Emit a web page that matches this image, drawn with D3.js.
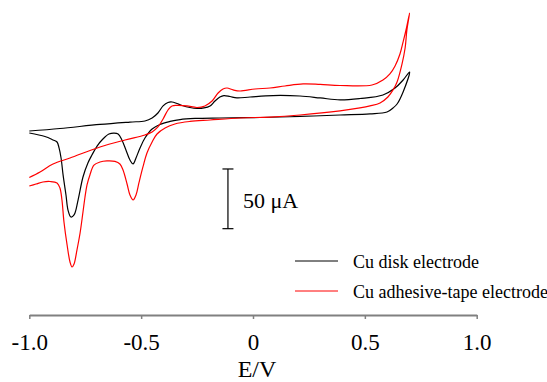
<!DOCTYPE html>
<html>
<head>
<meta charset="utf-8">
<script src="https://cdn.jsdelivr.net/npm/d3@7"></script>
<style>
  html, body { margin: 0; padding: 0; background: #fff; }
  svg { display: block; }
  text { font-family: "Liberation Serif", "Times New Roman", serif; }
</style>
</head>
<body>
<svg id="chart" width="547" height="382"></svg>
<script>
// Potential (V) and current (uA), in scan order
const seriesNames = ["Cu disk electrode", "Cu adhesive-tape electrode"];
const seriesColors = ["#000000", "#ff0000"];

const diskE = [-1.0,-0.863,-0.684,-0.550,-0.483,-0.451,-0.425,-0.402,-0.380,-0.362,-0.340,-0.317,-0.282,-0.250,-0.219,-0.192,-0.170,-0.148,-0.130,-0.103,-0.072,-0.013,0.089,0.210,0.300,0.389,0.478,0.581,0.635,0.671,0.700,
  0.671,0.644,0.626,0.599,0.523,0.389,0.210,0.031,-0.148,-0.259,-0.326,-0.371,-0.416,-0.451,-0.483,-0.505,-0.523,-0.536,-0.550,-0.568,-0.586,-0.603,-0.621,-0.644,-0.671,-0.697,-0.720,-0.738,-0.760,-0.782,-0.800,-0.814,-0.827,-0.836,-0.849,-0.858,-0.867,-0.876,-0.894,-0.930,-1.0];
const diskI = [-10.9,-8.8,-5.4,-3.4,-2.5,0,4.2,10.1,13.0,13.4,12.1,10.5,8.8,8.0,8.4,10.1,14.2,17.6,18.8,18.0,16.8,17.6,18.8,18.4,16.8,15.1,16.3,19.3,25.1,31.8,38.5,
  21.8,11.7,8.4,5.0,3.4,2.5,1.3,0.4,0,-0.4,-1.3,-2.9,-5.4,-9.2,-16.8,-25.1,-33.5,-38.5,-35.2,-26.8,-18.4,-13.4,-12.6,-13.4,-17.6,-23.5,-31.0,-37.7,-49.4,-68.7,-81.2,-82.9,-77.1,-64.5,-47.7,-33.5,-25.1,-20.1,-18.4,-15.5,-12.6];

const tapeE = [-1.0,-0.952,-0.894,-0.818,-0.684,-0.572,-0.483,-0.451,-0.425,-0.402,-0.380,-0.362,-0.335,-0.295,-0.250,-0.215,-0.183,-0.156,-0.134,-0.116,-0.089,-0.058,0.009,0.076,0.143,0.224,0.300,0.389,0.532,0.581,0.612,0.635,0.657,0.671,0.684,0.700,
  0.688,0.680,0.666,0.644,0.626,0.603,0.568,0.523,0.478,0.389,0.210,0.076,-0.058,-0.192,-0.282,-0.349,-0.393,-0.429,-0.451,-0.474,-0.492,-0.510,-0.523,-0.536,-0.550,-0.563,-0.581,-0.595,-0.617,-0.653,-0.684,-0.711,-0.729,-0.742,-0.751,-0.760,-0.773,-0.787,-0.800,-0.809,-0.818,-0.831,-0.845,-0.854,-0.863,-0.876,-0.907,-0.939,-0.970,-1.0];
const tapeI = [-49.8,-45.2,-38.5,-33.5,-24.3,-18.4,-14.2,-11.7,-7.5,-0.8,6.7,10.1,10.5,10.1,8.8,10.1,14.2,20.9,24.3,25.1,23.5,22.6,24.3,25.1,26.8,28.5,28.1,27.2,27.6,31.8,36.9,43.6,53.6,63.7,73.7,87.9,
  73.7,58.6,45.2,30.2,23.5,17.6,12.6,10.1,8.4,5.9,2.5,0.8,0,-1.7,-2.9,-5.0,-8.4,-13.4,-20.1,-29.3,-41.0,-54.4,-64.5,-68.7,-64.5,-55.3,-43.6,-38.5,-36.4,-36.0,-36.9,-39.4,-47.7,-56.1,-66.2,-78.7,-96.3,-110.6,-122.3,-124.8,-120.6,-106.4,-87.1,-68.7,-58.6,-54.4,-53.2,-53.6,-55.3,-57.0];

const tickValues = [-1.0, -0.5, 0, 0.5, 1.0];
const tickLabels = ["-1.0", "-0.5", "0", "0.5", "1.0"];
const xLabel = "E/V";
const scaleBarValue = 50;      // uA
const scaleBarLabel = "50 \u03bcA";
const scaleBarE = -0.112;      // V position of the scale bar
const scaleBarTop = -42.7;     // uA

const svg = d3.select("#chart");
const x = d3.scaleLinear().domain([-1, 1]).range([29.3, 476.7]);
const y = d3.scaleLinear().domain([-165, 95]).range([315, 315 - 260 * 1.194]);

const line = d3.line()
  .x(d => x(d[0])).y(d => y(d[1]))
  .curve(d3.curveCatmullRom.alpha(0.5));

const series = [
  diskE.map((e, i) => [e, diskI[i]]),
  tapeE.map((e, i) => [e, tapeI[i]])
];

// draw disk first, tape on top
series.forEach((s, k) => {
  svg.append("path")
    .attr("d", line(s))
    .attr("fill", "none")
    .attr("stroke", seriesColors[k])
    .attr("stroke-width", 1.2)
    .attr("stroke-linejoin", "round");
});

// x axis
const axis = d3.axisBottom(x)
  .tickValues(tickValues)
  .tickFormat((d, i) => tickLabels[i])
  .tickSize(4)
  .tickSizeOuter(0);
const gx = svg.append("g").attr("transform", "translate(0,315)").call(axis);
gx.select(".domain").attr("stroke", "#808080").attr("stroke-width", 1.8);
gx.selectAll(".tick line").attr("stroke", "#808080").attr("stroke-width", 1.5);
gx.selectAll(".tick text")
  .attr("y", 35).attr("dy", 0)
  .attr("fill", "#000")
  .style("font-family", "'Liberation Serif', 'Times New Roman', serif")
  .style("font-size", "23px");

svg.append("text")
  .attr("x", 257).attr("y", 377)
  .attr("text-anchor", "middle")
  .style("font-size", "24px")
  .attr("fill", "#000")
  .text(xLabel);

// scale bar
const sbx = x(scaleBarE);
const sbTop = y(scaleBarTop), sbBot = y(scaleBarTop - scaleBarValue);
const sb = svg.append("g").attr("stroke", "#000").attr("stroke-width", 1.2);
sb.append("line").attr("x1", sbx).attr("x2", sbx).attr("y1", sbTop).attr("y2", sbBot);
sb.append("line").attr("x1", sbx - 5.5).attr("x2", sbx + 5.5).attr("y1", sbTop).attr("y2", sbTop);
sb.append("line").attr("x1", sbx - 5.5).attr("x2", sbx + 5.5).attr("y1", sbBot).attr("y2", sbBot);
svg.append("text")
  .attr("x", sbx + 15).attr("y", 208)
  .style("font-size", "22px")
  .attr("fill", "#000")
  .text(scaleBarLabel);

// legend
const legendY = [261, 291];
seriesNames.forEach((name, k) => {
  svg.append("line")
    .attr("x1", 295).attr("x2", 338)
    .attr("y1", legendY[k]).attr("y2", legendY[k])
    .attr("stroke", seriesColors[k]).attr("stroke-width", 1);
  svg.append("text")
    .attr("x", 353).attr("y", legendY[k] + 7)
    .style("font-size", "18px")
    .attr("fill", "#000")
    .text(name);
});
</script>
</body>
</html>
